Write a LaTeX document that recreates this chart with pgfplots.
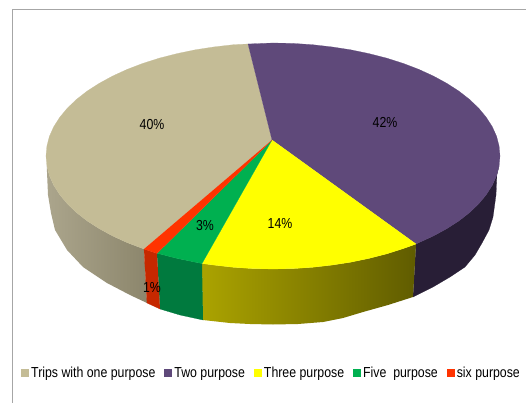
\documentclass[border=0pt]{standalone}
\usepackage{fontspec}
\setmainfont[FakeStretch=0.85]{Liberation Sans}
\usepackage{pgfplots}
\pgfplotsset{compat=1.18}
\definecolor{tanTop}{HTML}{C4BC96}
\definecolor{purpleTop}{HTML}{5F497A}
\definecolor{yellowTop}{HTML}{FFFF00}
\definecolor{greenTop}{HTML}{00B050}
\definecolor{redTop}{HTML}{FF3300}
\definecolor{purpleSide}{HTML}{281E36}
\definecolor{greenSide}{HTML}{007A3E}
\definecolor{redSide}{HTML}{C62800}
\newcommand{\chartfont}{\fontsize{14.5}{16}\selectfont}
\begin{document}
\begin{tikzpicture}
\begin{axis}[
  scale only axis, width=526pt, height=403pt,
  xmin=0, xmax=526, ymin=0, ymax=403, y dir=reverse,
  hide axis, clip=true,
  legend columns=5,
  legend cell align=left,
  legend style={at={(axis cs:21,373)}, anchor=west, draw=none, fill=none,
    font=\chartfont, inner xsep=0pt, inner ysep=0pt,
    /tikz/every even column/.append style={column sep=7pt}},
  legend image code/.code={\path[#1,draw=none] (0pt,-4pt) rectangle (8pt,4pt);},
]
% page background and chart frame
\addplot[forget plot, fill=white, draw=none] coordinates {(0,0)(526,0)(526,403)(0,403)};
\addplot[forget plot, draw=black!35, line width=1pt] coordinates {(526,10)(12,10)(12,403)};

% side walls of the disc
\addplot[forget plot, fill=purpleSide, draw=purpleSide, line width=0.2pt] coordinates {
  (499.1,165.9)(496.6,175.6)(492.3,185.2)(486.3,194.6)(478.7,203.8)(469.6,212.5)(459,220.8)
  (446.9,228.6)(433.5,235.9)(418.9,242.6)(416,244)
  (413,297)(433,287)(450,277)(465,267)(475,255)(482,243)(489,230)(493,217)(496,195)(497,173)};
\addplot[forget plot, left color={rgb,255:red,171;green,165;blue,140}, right color={rgb,255:red,140;green,134;blue,108}, draw=none] coordinates {
  (144,249)(127.1,242.6)(112.5,235.9)(99.1,228.6)(87,220.8)(76.4,212.5)(67.3,203.8)
  (59.7,194.6)(53.7,185.2)(49.4,175.6)(46.9,165.9)
  (47,172)(48,195)(51,213)(55,230)(67,250)(83,267)(107,283)(130,295)(147,303)};
\addplot[forget plot, left color={rgb,255:red,171;green,163;blue,0}, right color={rgb,255:red,96;green,92;blue,0}, draw=none] coordinates {
  (416,244)(403.2,248.6)(386.5,253.9)(368.9,258.4)(350.6,262.2)(331.7,265.1)(312.4,267.3)
  (292.8,268.6)(273,269)(253.2,268.6)(233.6,267.3)(214.3,265.1)(202,263.5)
  (203,320)(230,323)(250,324)(273,324.5)(298,324)(323,322)(343,318)(363,312)(388,305)(413,297)};
\addplot[forget plot, fill=greenSide, draw=greenSide, line width=0.2pt] coordinates {
  (202,263.5)(195.4,262.2)(177.1,258.4)(159.5,253.9)(157,253.4)(160,309)(180,315)(203,320)};
\addplot[forget plot, fill=redSide, draw=redSide, line width=0.2pt] coordinates {
  (157,253.4)(144,249)(147,303)(160,309)};

% top face of each slice
\addplot[forget plot, fill=tanTop, draw=tanTop, line width=0.2pt] coordinates {
  (272,140)(144,249)(127.1,242.6)(112.5,235.9)(99.1,228.6)(87,220.8)(76.4,212.5)(67.3,203.8)
  (59.7,194.6)(53.7,185.2)(49.4,175.6)(46.9,165.9)(46,156)(46.9,146.1)(49.4,136.4)(53.7,126.8)
  (59.7,117.4)(67.3,108.2)(76.4,99.5)(87,91.2)(99.1,83.4)(112.5,76.1)(127.1,69.4)(142.8,63.4)
  (159.5,58.1)(177.1,53.6)(195.4,49.8)(214.3,46.9)(233.6,44.7)(248,44)};
\addplot[forget plot, fill=purpleTop, draw=purpleTop, line width=0.2pt] coordinates {
  (272,140)(248,44)(273,43)(292.8,43.4)(312.4,44.7)(331.7,46.9)(350.6,49.8)(368.9,53.6)(386.5,58.1)
  (403.2,63.4)(418.9,69.4)(433.5,76.1)(446.9,83.4)(459,91.2)(469.6,99.5)(478.7,108.2)(486.3,117.4)
  (492.3,126.8)(496.6,136.4)(499.1,146.1)(500,156)(499.1,165.9)(496.6,175.6)(492.3,185.2)(486.3,194.6)
  (478.7,203.8)(469.6,212.5)(459,220.8)(446.9,228.6)(433.5,235.9)(418.9,242.6)(416,244)};
\addplot[forget plot, fill=yellowTop, draw=yellowTop, line width=0.2pt] coordinates {
  (272,140)(416,244)(403.2,248.6)(386.5,253.9)(368.9,258.4)(350.6,262.2)(331.7,265.1)(312.4,267.3)
  (292.8,268.6)(273,269)(253.2,268.6)(233.6,267.3)(214.3,265.1)(202,263.5)};
\addplot[forget plot, fill=greenTop, draw=greenTop, line width=0.2pt] coordinates {
  (272,140)(202,263.5)(195.4,262.2)(177.1,258.4)(159.5,253.9)(157,253.4)};
\addplot[forget plot, fill=redTop, draw=redTop, line width=0.2pt] coordinates {
  (272,140)(157,253.4)(144,249)};

% legend entries
\addlegendimage{fill=tanTop}
\addlegendimage{fill=purpleTop}
\addlegendimage{fill=yellowTop}
\addlegendimage{fill=greenTop}
\addlegendimage{fill=redTop}
\legend{Trips with one purpose, Two purpose, Three purpose, Five\ \ purpose, six purpose}

% value labels
\node[font=\chartfont] at (axis cs:152,125) {40\%};
\node[font=\chartfont] at (axis cs:385,122) {42\%};
\node[font=\chartfont] at (axis cs:280,224) {14\%};
\node[font=\chartfont] at (axis cs:205,226) {3\%};
\node[font=\chartfont] at (axis cs:152,288) {1\%};
\end{axis}
\end{tikzpicture}
\end{document}
